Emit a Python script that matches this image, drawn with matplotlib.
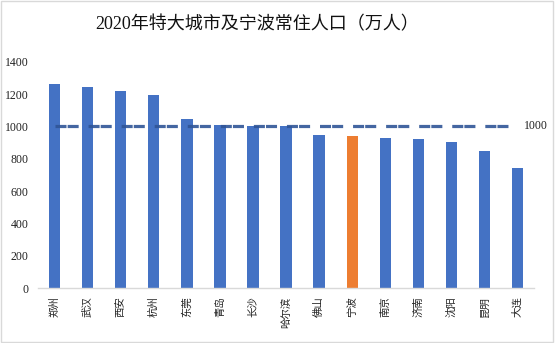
import matplotlib.pyplot as plt
from matplotlib.patches import Rectangle

# 数据
cities = ['郑州', '武汉', '西安', '杭州', '东莞', '青岛', '长沙', '哈尔滨',
          '佛山', '宁波', '南京', '济南', '沈阳', '昆明', '大连']
population = [1260.1, 1244.8, 1218.3, 1193.6, 1046.7, 1007.2, 1004.8, 1001.0,
              949.9, 940.4, 931.5, 920.2, 907.0, 846.0, 745.1]
threshold = [1000] * len(cities)
highlight = '宁波'

plt.rcParams['font.family'] = ['Liberation Serif', 'Noto Sans CJK SC']

fig = plt.figure(figsize=(5.55, 3.43), dpi=100)
ax = fig.add_axes([0.0688, 0.1595, 0.8932, 0.6605])

colors = ['#ED7D31' if c == highlight else '#4472C4' for c in cities]
x = list(range(len(cities)))
ax.bar(x, population, width=0.34, color=colors, zorder=2)

# 1000万 参考线
ax.plot(x, threshold, color='#2F5597', alpha=0.9, linewidth=2.3,
        linestyle=(0, (3.45, 0.35, 3.45, 3.1)), zorder=3)
ax.annotate(str(threshold[-1]), xy=(x[-1], threshold[-1]), xytext=(5, 0),
            textcoords='offset points', va='center', ha='left',
            fontsize=8.5, color='#222222')

ax.set_xlim(-0.5, len(cities) - 0.5)
ax.set_ylim(0, 1400)
ax.set_yticks(range(0, 1401, 200))
ax.set_xticks(x)
ax.set_xticklabels(cities, rotation=90, fontsize=7.5,
                   family=['Noto Sans CJK SC'])
ax.tick_params(axis='both', length=0, colors='#222222', labelsize=8.5)
ax.tick_params(axis='y', pad=7)
ax.tick_params(axis='x', pad=6, labelsize=7.5)

for s in ['top', 'right', 'left']:
    ax.spines[s].set_visible(False)
ax.spines['bottom'].set_color('#D9D9D9')
ax.spines['bottom'].set_linewidth(1)

fig.suptitle('2020年特大城市及宁波常住人口（万人）', x=0.463, y=0.955,
             fontsize=13, color='#111111')

# 图表外框
fig.patches.append(Rectangle((0.002, 0.004), 0.994, 0.992, transform=fig.transFigure,
                             fill=False, edgecolor='#D9D9D9', linewidth=1))

fig.savefig('out.png', dpi=100)
